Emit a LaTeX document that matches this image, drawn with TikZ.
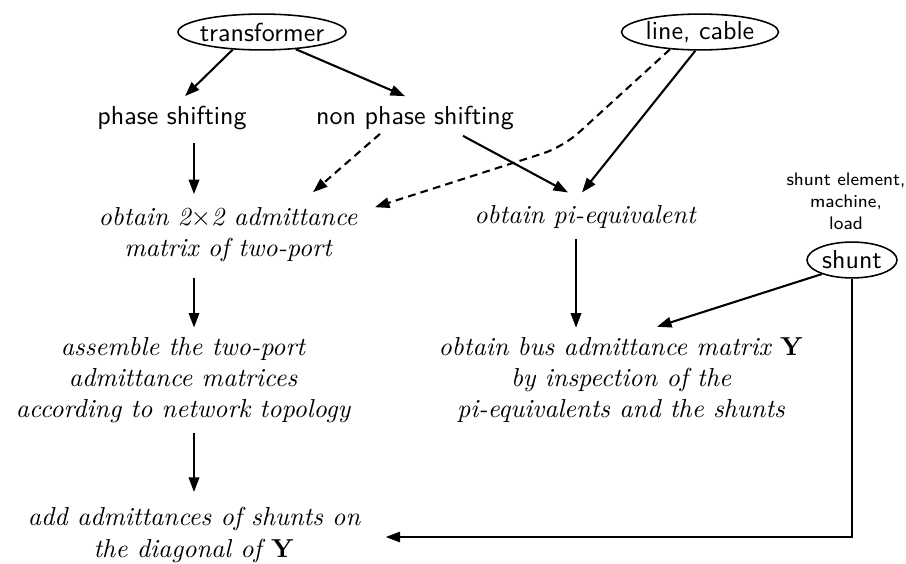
\documentclass[tikz,border=0pt]{standalone}
\usetikzlibrary{arrows.meta,calc,shapes.geometric}
\begin{document}
\begin{tikzpicture}[x=0.3846pt,y=-0.3846pt,
  conn/.style={line width=0.8pt,-{Triangle[length=5.6pt,width=4pt]}},
  dconn/.style={conn,dash pattern=on 3pt off 2pt},
  oval/.style={draw,ellipse,line width=0.6pt,inner sep=0pt,minimum height=13.8pt,font=\sffamily},
  lbl/.style={inner sep=0pt,font=\sffamily},
  stepbox/.style={inner sep=0pt,align=center,font=\itshape}]
\useasboundingbox (0,0) rectangle (906,563);
% top sources
\node[oval,minimum width=64.6pt] (tr) at (262,32) {\makebox[0pt]{transformer}};
\node[oval,minimum width=60.4pt] (lc) at (700,32) {\makebox[0pt]{line, cable}};
\node[oval,minimum width=34.6pt] (sh) at (852,260) {\makebox[0pt]{shunt}};
\node[lbl,align=center,font=\sffamily\fontsize{7}{8.5}\selectfont] (shl) at (846,201) {shunt element,\\machine,\\load};
% second row
\node[lbl] (ps) at (172,118) {phase shifting};
\node[lbl] (nps) at (415,118) {non phase shifting};
% process steps
\node[stepbox] (adm) at (228,235) {obtain 2$\times$2 admittance\\matrix of two-port};
\node[stepbox] (pi) at (585,217) {obtain pi-equivalent};
\node[stepbox] (asm) at (183,380) {assemble the two-port\\admittance matrices\\according to network topology};
\node[stepbox] (bus) at (621,380) {obtain bus admittance matrix $\mathbf{Y}$\\by inspection of the\\pi-equivalents and the shunts};
\node[stepbox] (add) at (194,535) {add admittances of shunts on\\the diagonal of $\mathbf{Y}$};
% helper coordinates
\coordinate (colL) at (194,0);
\coordinate (colR) at (576,0);
\coordinate (bend) at (563,147);
% connectors
\draw[conn] (tr.211) -- ($(ps.north)+(13,-9.5)$);
\draw[conn] (tr.333) -- ($(nps.north)+(-10,-9.5)$);
\draw[conn] ($(ps.south -| colL)+(0,12.5)$) -- ($(adm.north -| colL)+(0,-13)$);
\draw[dconn] ($(nps.south)+(-35,3.5)$) -- ($(adm.north)+(85,-15)$);
\draw[dconn,rounded corners=8pt] (lc.210) -- (bend) -- ($(adm.north east)+(17,0)$);
\draw[conn] ($(nps.south)+(48,5.5)$) -- ($(pi.north)+(-17,-12.5)$);
\draw[conn] (lc.256) -- ($(pi.north)+(-3,-12.5)$);
\draw[conn] ($(pi.south -| colR)+(0,9.5)$) -- ($(bus.north -| colR)+(0,-9)$);
\draw[conn] (sh.205) -- ($(bus.north)+(36,-10)$);
\draw[conn] ($(adm.south -| colL)+(0,15)$) -- ($(asm.north -| colL)+(0,-9)$);
\draw[conn] ($(asm.south -| colL)+(0,10)$) -- ($(add.north -| colL)+(0,-15)$);
\draw[conn] (sh.south) |- ($(add.east)+(25,2)$);
\end{tikzpicture}
\end{document}
